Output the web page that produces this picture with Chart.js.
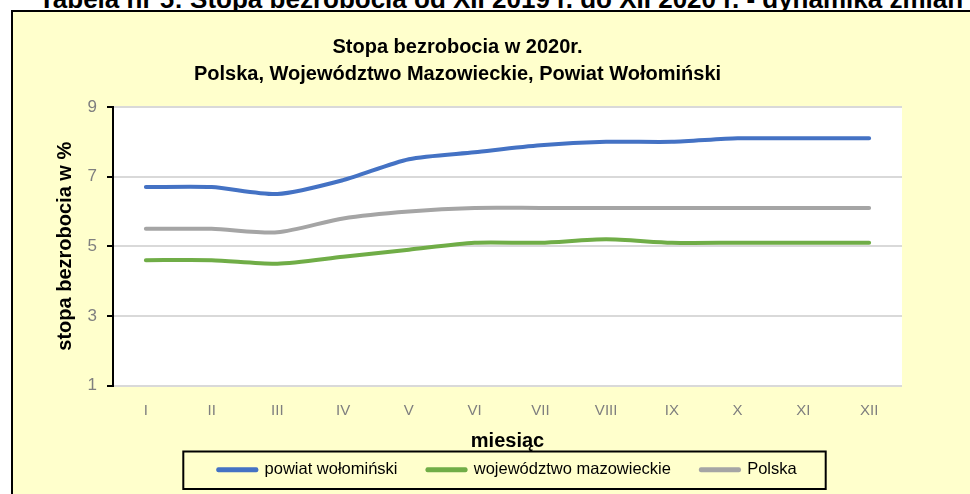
<!DOCTYPE html>
<html lang="pl">
<head>
<meta charset="utf-8">
<script src="https://cdn.jsdelivr.net/npm/chart.js@4.4.1/dist/chart.umd.min.js"></script>
<style>
  html, body { margin: 0; padding: 0; background: #fff; overflow: hidden; }
  body { width: 970px; height: 494px; position: relative; font-family: 'Liberation Sans', Arial, sans-serif; }
  .heading {
    position: absolute; left: 0; width: 1002px; top: -14px;
    text-align: center; font-weight: bold; font-size: 26px; line-height: 26px; color: #000;
    white-space: nowrap;
  }
  .frame {
    position: absolute; left: 11px; top: 10px; width: 970px; height: 494px;
    background: #ffffcc; border-left: 2px solid #000; border-top: 2px solid #000;
  }
  .chart { position: absolute; left: 0; top: 0; width: 957px; height: 482px; }
</style>
</head>
<body>
<div class="heading">Tabela nr 5: Stopa bezrobocia od XII 2019 r. do XII 2020 r. - dynamika zmian</div>
<div class="frame">
  <div class="chart"><canvas id="bezrobocie"></canvas></div>
</div>
<script>
  const months = ['I', 'II', 'III', 'IV', 'V', 'VI', 'VII', 'VIII', 'IX', 'X', 'XI', 'XII'];
  const powiatWolominski = [6.7, 6.7, 6.5, 6.9, 7.5, 7.7, 7.9, 8.0, 8.0, 8.1, 8.1, 8.1];
  const wojMazowieckie = [4.6, 4.6, 4.5, 4.7, 4.9, 5.1, 5.1, 5.2, 5.1, 5.1, 5.1, 5.1];
  const polska = [5.5, 5.5, 5.4, 5.8, 6.0, 6.1, 6.1, 6.1, 6.1, 6.1, 6.1, 6.1];
  const yTicks = [1, 3, 5, 7, 9];

  const font = "'Liberation Sans', Arial, sans-serif";
  const tickGrey = '#7f7f7f';

  // white plot area on the yellow chart background
  const plotBackground = {
    id: 'plotBackground',
    beforeDraw(chart) {
      const { ctx, chartArea: a } = chart;
      ctx.save();
      ctx.fillStyle = '#ffffff';
      ctx.fillRect(a.left, a.top, a.right - a.left, a.bottom - a.top);
      ctx.restore();
    }
  };

  // black frame round the legend, like in Excel
  const legendFrame = {
    id: 'legendFrame',
    afterDraw(chart) {
      const lg = chart.legend;
      if (!lg || !lg.legendHitBoxes || !lg.legendHitBoxes.length) return;
      const boxes = lg.legendHitBoxes;
      const left = Math.min(...boxes.map(b => b.left)) - 35;
      const right = Math.max(...boxes.map(b => b.left + b.width)) + 29;
      const top = Math.min(...boxes.map(b => b.top)) - 10;
      const bottom = Math.max(...boxes.map(b => b.top + b.height)) + 11;
      const ctx = chart.ctx;
      ctx.save();
      ctx.strokeStyle = '#000';
      ctx.lineWidth = 2;
      ctx.strokeRect(left, top, right - left, bottom - top);
      ctx.restore();
    }
  };

  function line(label, data, color) {
    return {
      label,
      data,
      borderColor: color,
      backgroundColor: color,
      borderWidth: 4,
      borderCapStyle: 'round',
      borderJoinStyle: 'round',
      pointRadius: 0,
      tension: 0.25,
      fill: false
    };
  }

  new Chart(document.getElementById('bezrobocie'), {
    type: 'line',
    data: {
      labels: months,
      datasets: [
        line('powiat wołomiński', powiatWolominski, '#4472c4'),
        line('województwo mazowieckie', wojMazowieckie, '#70ad47'),
        line('Polska', polska, '#a5a5a5')
      ]
    },
    options: {
      responsive: true,
      maintainAspectRatio: false,
      animation: false,
      layout: { padding: { left: 0, right: 68, top: 0, bottom: 6 } },
      plugins: {
        title: {
          display: true,
          text: ['Stopa bezrobocia w 2020r.', 'Polska, Województwo Mazowieckie, Powiat Wołomiński'],
          color: '#000',
          font: { family: font, size: 20, weight: 'bold', lineHeight: 1.35 },
          padding: { top: 22, bottom: 19 }
        },
        legend: {
          position: 'bottom',
          fullSize: false,
          labels: {
            color: '#000',
            font: { family: font, size: 16.5 },
            boxWidth: 38,
            boxHeight: 1,
            padding: 30
          }
        },
        tooltip: { enabled: false }
      },
      scales: {
        x: {
          offset: true,
          afterFit: s => { s.height = 46; },
          grid: { display: false },
          border: { display: false },
          ticks: { color: tickGrey, font: { family: font, size: 15 }, padding: 8 },
          title: {
            display: true,
            text: 'miesiąc',
            color: '#000',
            font: { family: font, size: 20, weight: 'bold' },
            padding: { top: 0, bottom: -22 }
          }
        },
        y: {
          min: 1,
          max: 9,
          afterBuildTicks: s => { s.ticks = yTicks.map(v => ({ value: v })); },
          afterFit: s => { s.width = 100; },
          grid: { color: '#d9d9d9', lineWidth: 2, tickColor: '#000', tickLength: 6 },
          border: { color: '#000', width: 2 },
          ticks: { color: tickGrey, font: { family: font, size: 17 }, padding: 10 },
          title: {
            display: true,
            text: 'stopa bezrobocia w %',
            color: '#000',
            font: { family: font, size: 20, weight: 'bold' },
            padding: { top: 40, bottom: 0 }
          }
        }
      }
    },
    plugins: [plotBackground, legendFrame]
  });
</script>
</body>
</html>
